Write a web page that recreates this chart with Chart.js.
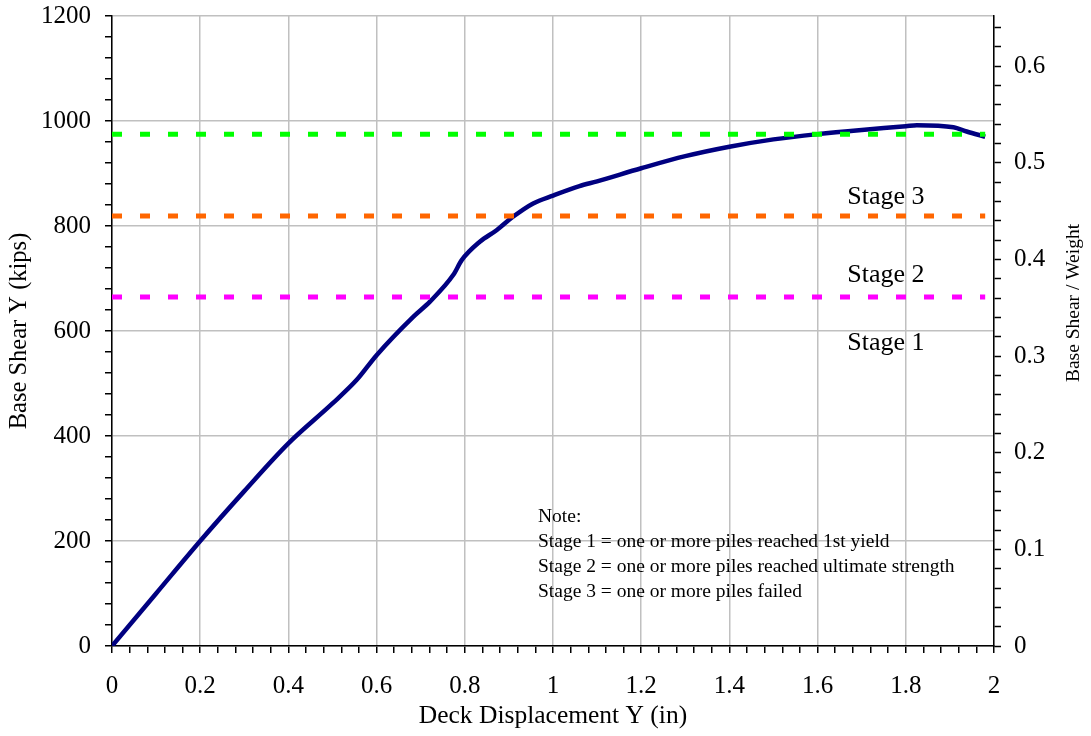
<!DOCTYPE html>
<html>
<head>
<meta charset="utf-8">
<script src="https://cdn.jsdelivr.net/npm/chart.js@4/dist/chart.umd.min.js"></script>
<style>
  html, body { margin: 0; padding: 0; background: #fff; }
  #wrap { width: 1091px; height: 736px; }
</style>
</head>
<body>
<div id="wrap"><canvas id="pushover" width="1091" height="736"></canvas></div>
<script>
// pushover curve
const dispY = [0, 0.1, 0.2, 0.3, 0.4, 0.5, 0.555, 0.6, 0.683, 0.721, 0.774, 0.793, 0.834, 0.872, 0.91, 0.955, 1.0, 1.06, 1.1, 1.2, 1.3, 1.4, 1.5, 1.6, 1.7, 1.8, 1.825, 1.908, 1.938, 1.98]
const shearY = [0, 100, 200, 295, 386, 462, 507, 554, 627, 656, 707, 735, 770, 792, 818, 843, 858, 876, 885, 910, 933, 951, 965, 975, 983, 990, 992, 988, 980, 970]

// stage limits (kips)
const stageX = [0, 1.98]
const stage1 = 665
const stage2 = 819
const stage3 = 975

const stageLabels = ['Stage 1', 'Stage 2', 'Stage 3']
const stageLabelX = 1.755
const stageLabelY = [577, 707, 855]

const noteLines = [
    'Note:',
    'Stage 1 = one or more piles reached 1st yield',
    'Stage 2 = one or more piles reached ultimate strength',
    'Stage 3 = one or more piles failed'
]

// weight used for the right hand axis
const weight = 1841

const xTicks = [0, 0.2, 0.4, 0.6, 0.8, 1, 1.2, 1.4, 1.6, 1.8, 2]
const yTicks = [0, 200, 400, 600, 800, 1000, 1200]
const y2Ticks = [0, 0.1, 0.2, 0.3, 0.4, 0.5, 0.6]

const serif = '"Liberation Serif", "Times New Roman", serif'
const gridGray = '#c0c0c0'

const isMajor = (v, list) => list.some(t => Math.abs(t - v) < 1e-6)

const minorTicks = (max, step) => {
    let out = []
    for (let k = 0; k * step <= max + 1e-9; k++) out.push({ value: Math.round(k * step * 1000) / 1000 })
    return out
}

const stageLine = (value, color) => ({
    data: stageX.map(x => ({ x: x, y: value })),
    borderColor: color,
    borderWidth: 5,
    borderDash: [10, 18],
    pointRadius: 0,
    fill: false
})

const fitY = (axis, width) => {
    axis.width = width
    axis.paddingTop = 0
    axis.paddingBottom = 0
}

const textPlugin = {
    id: 'notes',
    afterDatasetsDraw(chart) {
        const ctx = chart.ctx
        const xs = chart.scales.x
        const ys = chart.scales.y
        ctx.save()
        ctx.fillStyle = '#000'
        ctx.font = '26px ' + serif
        ctx.textAlign = 'center'
        ctx.textBaseline = 'middle'
        stageLabels.forEach((label, i) => {
            ctx.fillText(label, xs.getPixelForValue(stageLabelX), ys.getPixelForValue(stageLabelY[i]))
        })
        ctx.font = '19.5px ' + serif
        ctx.textAlign = 'left'
        const nx = xs.getPixelForValue(0.966)
        const ny = ys.getPixelForValue(246)
        noteLines.forEach((line, i) => ctx.fillText(line, nx, ny + i * 25))

        // right axis title reads bottom to top
        ctx.font = '19.5px ' + serif
        ctx.textAlign = 'center'
        ctx.translate(1074, 303)
        ctx.rotate(-Math.PI / 2)
        ctx.fillText('Base Shear / Weight', 0, 0)
        ctx.restore()
    }
}

const ctx = document.getElementById('pushover').getContext('2d')
const chart = new Chart(ctx, {
    type: 'line',
    data: {
        datasets: [
            stageLine(stage1, '#ff00ff'),
            stageLine(stage2, '#ff6600'),
            stageLine(stage3, '#00ff00'),
            {
                data: dispY.map((x, i) => ({ x: x, y: shearY[i] })),
                borderColor: '#000080',
                borderWidth: 4.5,
                pointRadius: 0,
                cubicInterpolationMode: 'monotone',
                fill: false
            }
        ]
    },
    options: {
        responsive: false,
        animation: false,
        layout: { padding: { top: 16, left: 0, right: 0, bottom: 0 } },
        plugins: { legend: { display: false }, tooltip: { enabled: false } },
        scales: {
            x: {
                type: 'linear',
                min: 0,
                max: 2,
                afterBuildTicks: axis => { axis.ticks = minorTicks(2, 0.04) },
                afterFit: axis => { axis.height = 90 },
                border: { color: '#000', width: 1.5 },
                grid: {
                    color: c => isMajor(c.tick.value, xTicks) ? gridGray : 'rgba(0,0,0,0)',
                    lineWidth: 1.5,
                    tickColor: '#000',
                    tickWidth: 1.5,
                    tickLength: 7
                },
                ticks: {
                    autoSkip: false,
                    maxRotation: 0,
                    padding: 18,
                    color: '#000',
                    font: { family: serif, size: 25 },
                    callback: v => isMajor(v, xTicks) ? String(Number(v.toFixed(1))) : ''
                },
                title: {
                    display: true,
                    text: 'Deck Displacement Y (in)',
                    color: '#000',
                    font: { family: serif, size: 25.5 },
                    padding: { top: 0, bottom: 4 }
                }
            },
            y: {
                type: 'linear',
                position: 'left',
                min: 0,
                max: 1200,
                afterBuildTicks: axis => { axis.ticks = minorTicks(1200, 40) },
                afterFit: axis => fitY(axis, 112),
                border: { color: '#000', width: 1.5 },
                grid: {
                    color: c => isMajor(c.tick.value, yTicks) ? gridGray : 'rgba(0,0,0,0)',
                    lineWidth: 1.5,
                    tickColor: '#000',
                    tickWidth: 1.5,
                    tickLength: 7
                },
                ticks: {
                    autoSkip: false,
                    padding: 14,
                    color: '#000',
                    font: { family: serif, size: 25 },
                    callback: v => isMajor(v, yTicks) ? String(v) : ''
                },
                title: {
                    display: true,
                    text: 'Base Shear Y (kips)',
                    color: '#000',
                    font: { family: serif, size: 24.5 },
                    padding: { top: 5, bottom: 0 }
                }
            },
            y2: {
                type: 'linear',
                position: 'right',
                min: 0,
                max: 1200 / weight,
                afterBuildTicks: axis => { axis.ticks = minorTicks(1200 / weight, 0.02) },
                afterFit: axis => fitY(axis, 97),
                border: { color: '#000', width: 1.5 },
                grid: {
                    drawOnChartArea: false,
                    tickColor: '#000',
                    tickWidth: 1.5,
                    tickLength: 7
                },
                ticks: {
                    autoSkip: false,
                    padding: 13,
                    color: '#000',
                    font: { family: serif, size: 25 },
                    callback: v => isMajor(v, y2Ticks) ? String(Number(v.toFixed(1))) : ''
                }
            }
        }
    },
    plugins: [textPlugin]
})
</script>
</body>
</html>
